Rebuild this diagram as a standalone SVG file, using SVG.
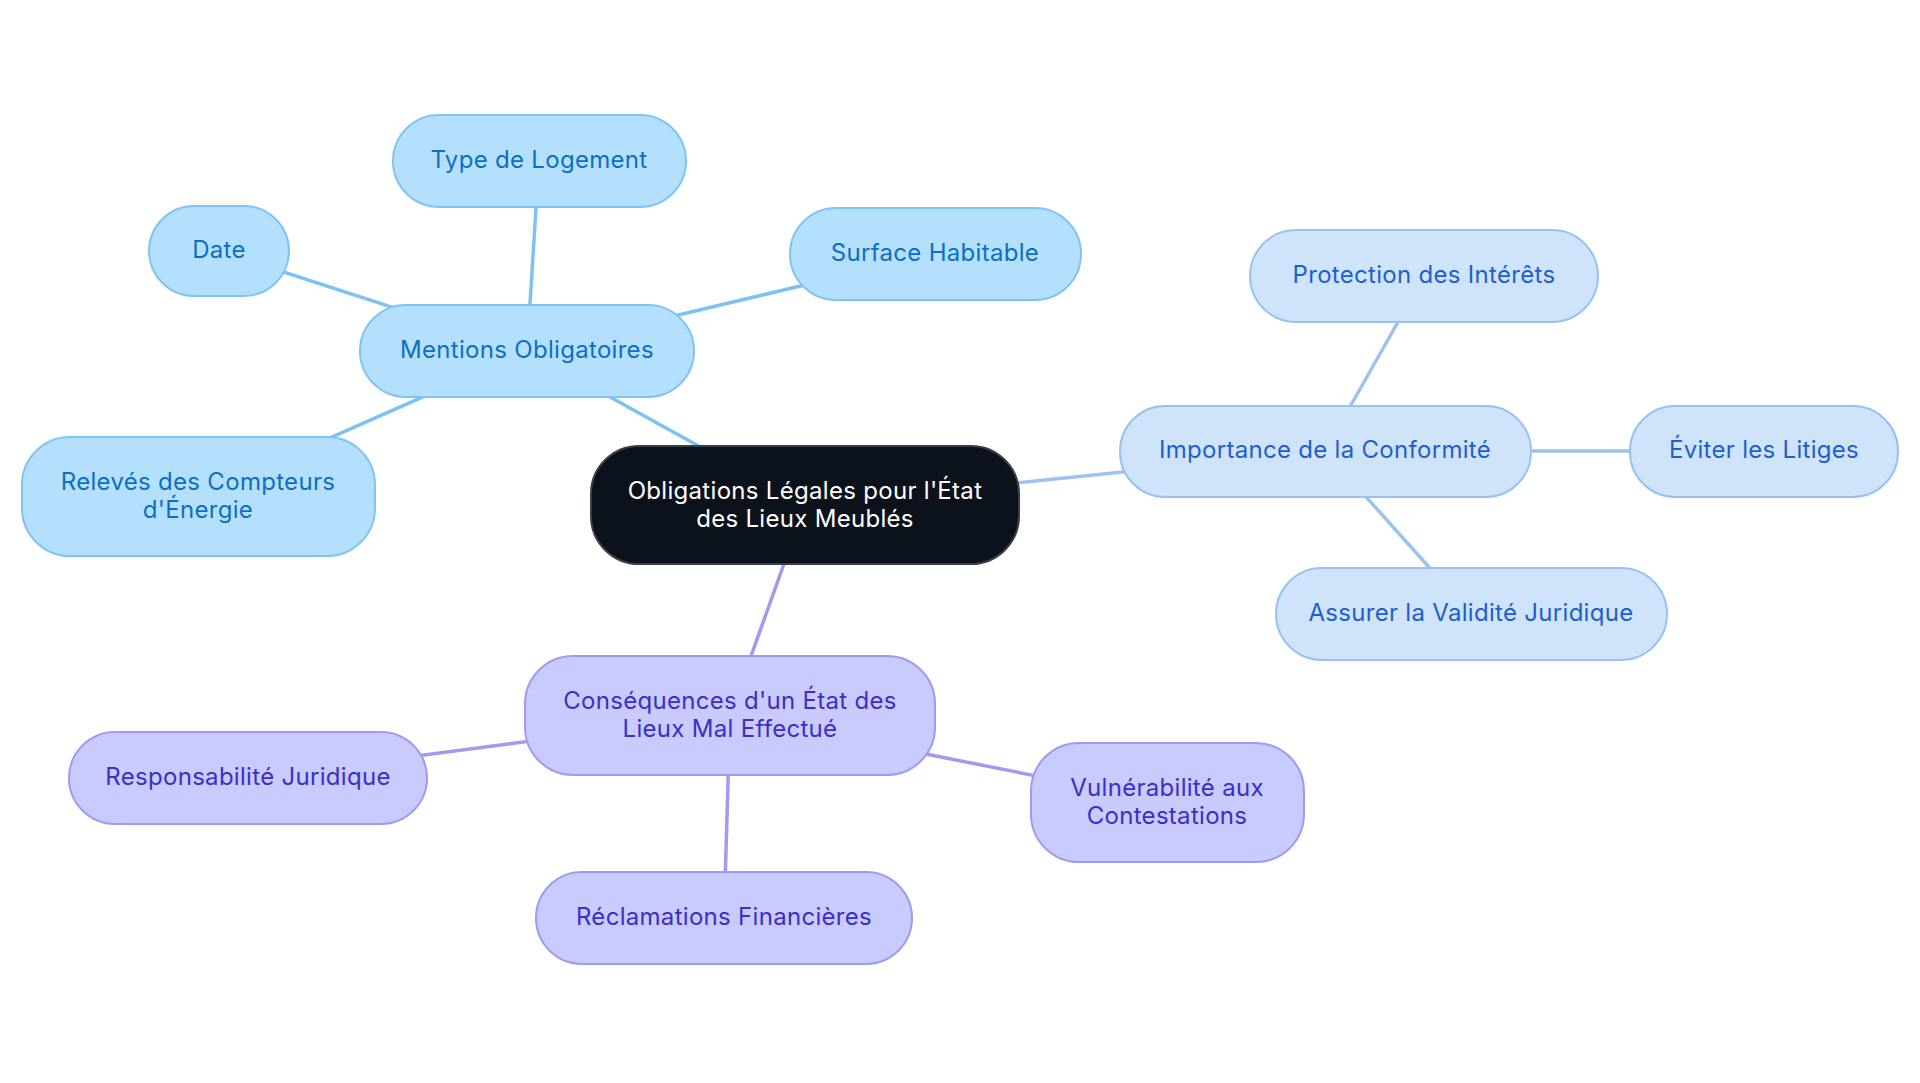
<svg xmlns="http://www.w3.org/2000/svg" width="1920" height="1083" viewBox="0 0 1920 1083">
<style>
text{font-family:"Inter","Noto Sans","Liberation Sans",sans-serif;font-size:24px;letter-spacing:0.3px;text-anchor:middle;dominant-baseline:central}
.b rect{fill:#b4e0fd;stroke:#7fc4f4;stroke-width:2}
.b text{fill:#0b6fc4}
.c rect{fill:#cfe3fb;stroke:#98c3f1;stroke-width:2}
.c text{fill:#1d5fcc}
.p rect{fill:#c9cafd;stroke:#9d9cf0;stroke-width:2}
.p text{fill:#3a2fc6}
.root rect{fill:#0c121b;stroke:#3a3f47;stroke-width:2}
.root text{fill:#ffffff}
#edges line{stroke-width:3.5;fill:none}
.eb{stroke:#7fc2f1}
.ec{stroke:#9cc3ef}
.ep{stroke:#9d9cf0}
</style>
<rect width="1920" height="1083" fill="#ffffff"/>
<g id="edges">
<line class="eb" x1="805" y1="505" x2="527" y2="351"/>
<line class="ec" x1="805" y1="505" x2="1325" y2="451"/>
<line class="ep" x1="805" y1="505" x2="730" y2="715"/>
<line class="eb" x1="527" y1="351" x2="539" y2="161"/>
<line class="eb" x1="527" y1="351" x2="219" y2="251"/>
<line class="eb" x1="527" y1="351" x2="935" y2="254"/>
<line class="eb" x1="527" y1="351" x2="198" y2="496"/>
<line class="ec" x1="1325" y1="451" x2="1424" y2="276"/>
<line class="ec" x1="1325" y1="451" x2="1764" y2="451"/>
<line class="ec" x1="1325" y1="451" x2="1471" y2="614"/>
<line class="ep" x1="730" y1="715" x2="248" y2="778"/>
<line class="ep" x1="730" y1="715" x2="724" y2="918"/>
<line class="ep" x1="730" y1="715" x2="1167" y2="802"/>
</g>
<g id="root" class="root">
<rect x="591" y="446" width="428" height="118" rx="48"/>
<text x="805" y="490">Obligations Légales pour l'État</text>
<text x="805" y="518">des Lieux Meublés</text>
</g>
<g id="mentions" class="b">
<rect x="360" y="305" width="334" height="92" rx="46"/>
<text x="527" y="349">Mentions Obligatoires</text>
</g>
<g id="type" class="b">
<rect x="393" y="115" width="293" height="92" rx="46"/>
<text x="539" y="159">Type de Logement</text>
</g>
<g id="date" class="b">
<rect x="149" y="206" width="140" height="90" rx="45"/>
<text x="219" y="249">Date</text>
</g>
<g id="surface" class="b">
<rect x="790" y="208" width="291" height="92" rx="46"/>
<text x="935" y="252">Surface Habitable</text>
</g>
<g id="releves" class="b">
<rect x="22" y="437" width="353" height="119" rx="48"/>
<text x="198" y="481">Relevés des Compteurs</text>
<text x="198" y="509">d'Énergie</text>
</g>
<g id="importance" class="c">
<rect x="1120" y="406" width="411" height="91" rx="45"/>
<text x="1325" y="449">Importance de la Conformité</text>
</g>
<g id="protection" class="c">
<rect x="1250" y="230" width="348" height="92" rx="46"/>
<text x="1424" y="274">Protection des Intérêts</text>
</g>
<g id="eviter" class="c">
<rect x="1630" y="406" width="268" height="91" rx="45"/>
<text x="1764" y="449">Éviter les Litiges</text>
</g>
<g id="assurer" class="c">
<rect x="1276" y="568" width="391" height="92" rx="46"/>
<text x="1471" y="612">Assurer la Validité Juridique</text>
</g>
<g id="consequences" class="p">
<rect x="525" y="656" width="410" height="119" rx="48"/>
<text x="730" y="700">Conséquences d'un État des</text>
<text x="730" y="728">Lieux Mal Effectué</text>
</g>
<g id="responsabilite" class="p">
<rect x="69" y="732" width="358" height="92" rx="46"/>
<text x="248" y="776">Responsabilité Juridique</text>
</g>
<g id="reclamations" class="p">
<rect x="536" y="872" width="376" height="92" rx="46"/>
<text x="724" y="916">Réclamations Financières</text>
</g>
<g id="vulnerabilite" class="p">
<rect x="1031" y="743" width="273" height="119" rx="48"/>
<text x="1167" y="787">Vulnérabilité aux</text>
<text x="1167" y="815">Contestations</text>
</g>
</svg>
